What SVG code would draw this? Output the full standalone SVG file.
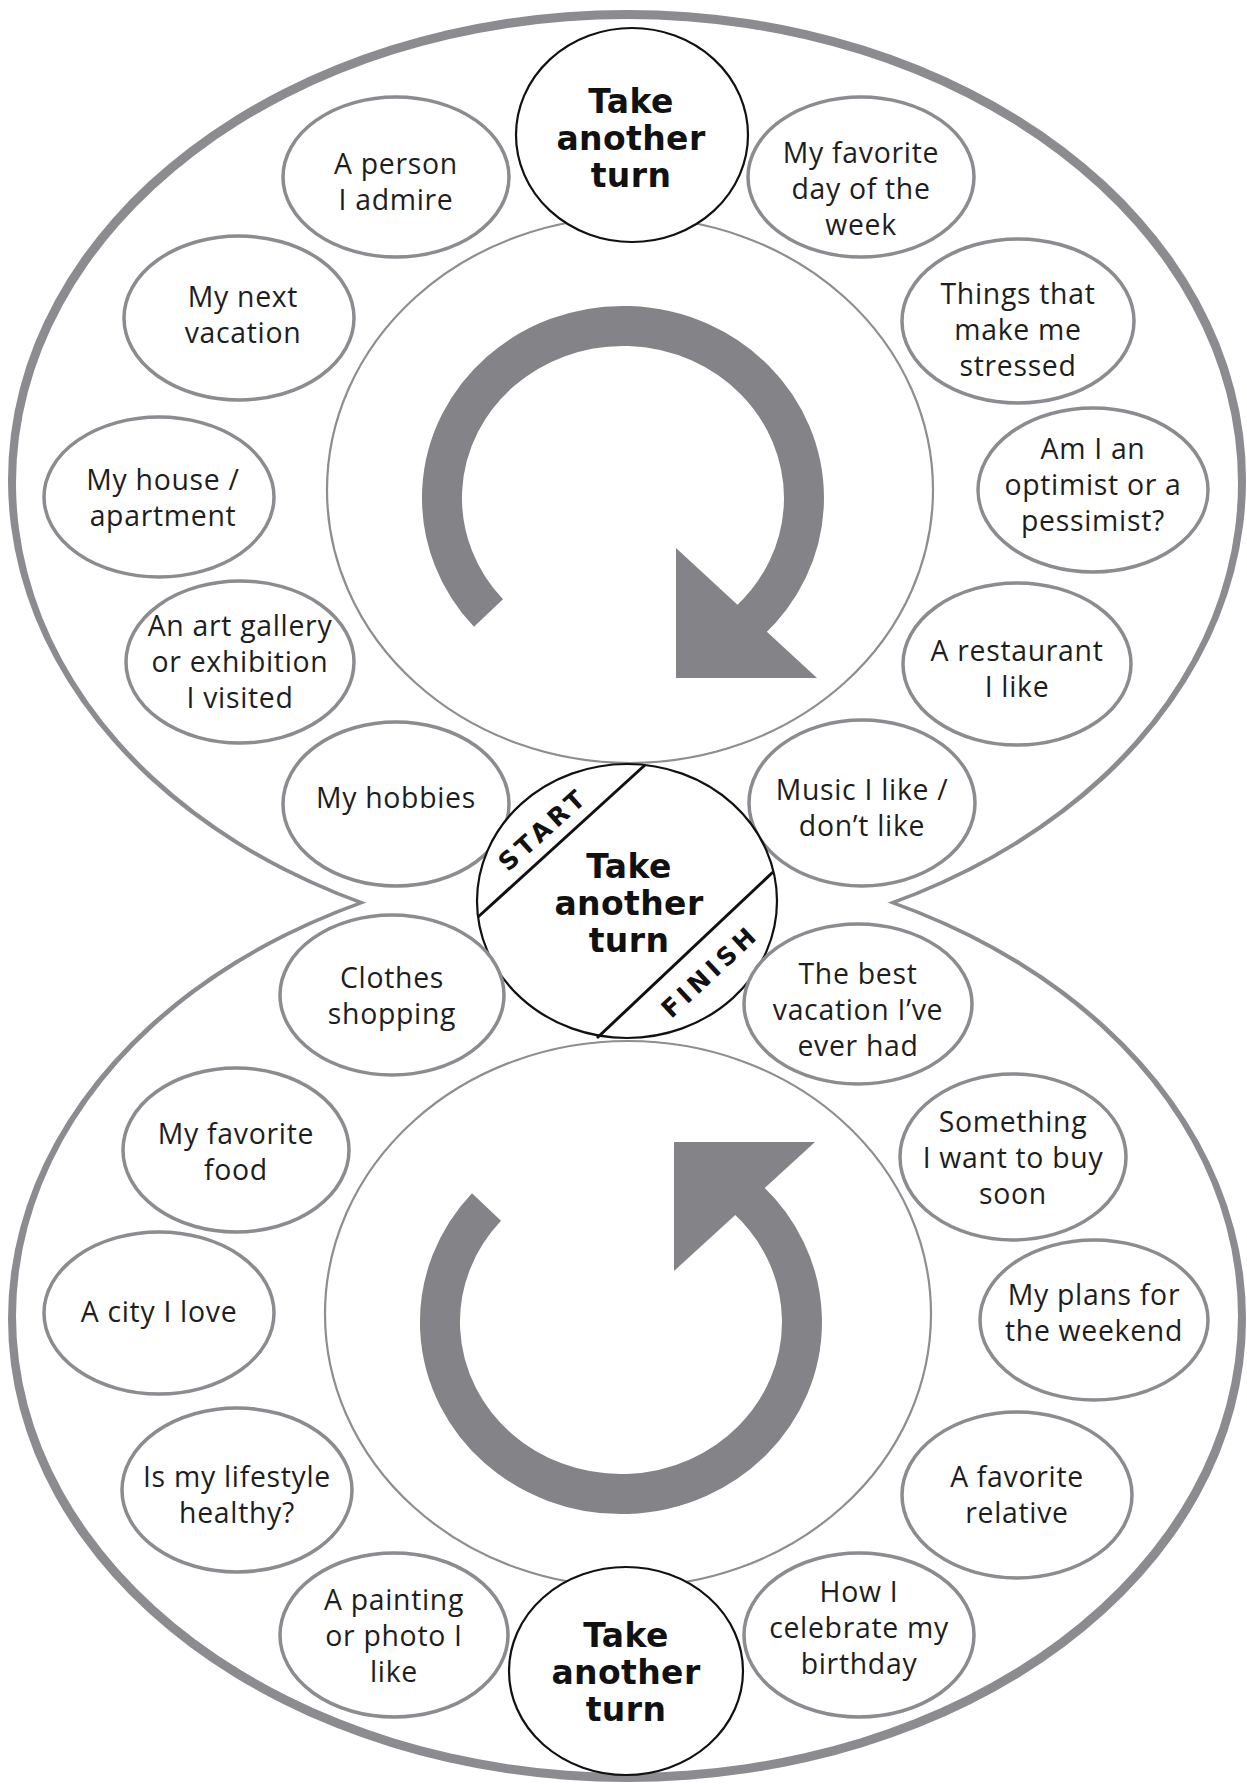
<svg xmlns="http://www.w3.org/2000/svg" width="1247" height="1792" viewBox="0 0 1247 1792">
<defs>
<style>
.band{fill:#8b8b90}
.hole{fill:#ffffff}
.ring{fill:none;stroke:#8e8e92;stroke-width:2.2}
.arc{fill:none;stroke:#838388;stroke-width:40;stroke-linecap:butt}
.head{fill:#838388}
.node{fill:#ffffff;stroke:#8b8b90;stroke-width:3.5}
.turn{fill:#ffffff;stroke:#111111;stroke-width:2.2}
.t{font-family:"Open Sans","Noto Sans","Liberation Sans",sans-serif;font-size:28.4px;letter-spacing:0.7px;fill:#1e1e1e;text-anchor:middle}
.b{font-family:"DejaVu Sans","Liberation Sans",sans-serif;font-size:33px;font-weight:bold;letter-spacing:0.4px;fill:#111111;text-anchor:middle}
.sf{font-family:"DejaVu Sans","Liberation Sans",sans-serif;font-size:25px;font-weight:bold;fill:#111111;text-anchor:middle;letter-spacing:4.5px}
.sep{stroke:#111111;stroke-width:3}
</style>
</defs>
<rect width="1247" height="1792" fill="#ffffff"/>
<g id="frame">
<ellipse class="band" cx="627" cy="480" rx="619" ry="470"/>
<ellipse class="band" cx="627" cy="1319" rx="619" ry="463"/>
<ellipse class="hole" cx="627" cy="483" rx="611" ry="464"/>
<ellipse class="hole" cx="627" cy="1316" rx="611" ry="457"/>
<ellipse class="ring" cx="630" cy="490" rx="303" ry="273"/>
<ellipse class="ring" cx="628" cy="1314" rx="303" ry="273"/>
</g>
<g id="connectors">
<path class="arc" d="M 488.5 613.1 A 181 172 0 1 1 748.7 621.7"/>
<polygon class="head" points="676,548 817,678 676,678"/>
<path class="arc" d="M 486.5 1206.9 A 181 172 0 1 0 746.7 1198.3"/>
<polygon class="head" points="674,1142 815,1142 674,1271"/>
</g>
<g id="n-top-turn"><ellipse class="turn" cx="632" cy="135" rx="116" ry="107"/>
<text class="b" x="631" y="113"><tspan x="631">Take</tspan><tspan x="631" dy="37">another</tspan><tspan x="631" dy="37">turn</tspan></text></g>
<g id="n-person"><ellipse class="node" cx="396" cy="177" rx="113" ry="80"/>
<text class="t" x="396" y="174"><tspan x="396">A person</tspan><tspan x="396" dy="36">I admire</tspan></text></g>
<g id="n-next-vacation"><ellipse class="node" cx="239" cy="318" rx="115" ry="82"/>
<text class="t" x="243" y="307"><tspan x="243">My next</tspan><tspan x="243" dy="36">vacation</tspan></text></g>
<g id="n-house"><ellipse class="node" cx="159" cy="497" rx="115" ry="80"/>
<text class="t" x="163" y="490"><tspan x="163">My house /</tspan><tspan x="163" dy="36">apartment</tspan></text></g>
<g id="n-art"><ellipse class="node" cx="240" cy="662" rx="114" ry="81"/>
<text class="t" x="240" y="636"><tspan x="240">An art gallery</tspan><tspan x="240" dy="36">or exhibition</tspan><tspan x="240" dy="36">I visited</tspan></text></g>
<g id="n-hobbies"><ellipse class="node" cx="396" cy="804" rx="113" ry="82"/>
<text class="t" x="396" y="808">My hobbies</text></g>
<g id="n-day"><ellipse class="node" cx="861" cy="177" rx="113" ry="80"/>
<text class="t" x="861" y="163"><tspan x="861">My favorite</tspan><tspan x="861" dy="36">day of the</tspan><tspan x="861" dy="36">week</tspan></text></g>
<g id="n-stressed"><ellipse class="node" cx="1018" cy="321" rx="116" ry="82"/>
<text class="t" x="1018" y="304"><tspan x="1018">Things that</tspan><tspan x="1018" dy="36">make me</tspan><tspan x="1018" dy="36">stressed</tspan></text></g>
<g id="n-optimist"><ellipse class="node" cx="1093" cy="490" rx="115" ry="82"/>
<text class="t" x="1093" y="459"><tspan x="1093">Am I an</tspan><tspan x="1093" dy="36">optimist or a</tspan><tspan x="1093" dy="36">pessimist?</tspan></text></g>
<g id="n-restaurant"><ellipse class="node" cx="1017" cy="664" rx="114" ry="81"/>
<text class="t" x="1017" y="661"><tspan x="1017">A restaurant</tspan><tspan x="1017" dy="36">I like</tspan></text></g>
<g id="n-music"><ellipse class="node" cx="862" cy="803" rx="113" ry="83"/>
<text class="t" x="862" y="800"><tspan x="862">Music I like /</tspan><tspan x="862" dy="36">don’t like</tspan></text></g>
<g id="n-start"><ellipse class="turn" cx="627" cy="901" rx="150" ry="137"/>
<line class="sep" x1="645" y1="765" x2="478" y2="917"/>
<line class="sep" x1="773" y1="872" x2="597" y2="1038"/>
<text class="b" x="629" y="878"><tspan x="629">Take</tspan><tspan x="629" dy="37">another</tspan><tspan x="629" dy="37">turn</tspan></text>
<g transform="translate(543,829) rotate(-42)"><text class="sf" x="0" y="9">START</text></g>
<g transform="translate(710,971) rotate(-43)"><text class="sf" x="0" y="9">FINISH</text></g></g>
<g id="n-clothes"><ellipse class="node" cx="392" cy="995" rx="112" ry="80"/>
<text class="t" x="392" y="988"><tspan x="392">Clothes</tspan><tspan x="392" dy="36">shopping</tspan></text></g>
<g id="n-food"><ellipse class="node" cx="236" cy="1150" rx="113" ry="82"/>
<text class="t" x="236" y="1144"><tspan x="236">My favorite</tspan><tspan x="236" dy="36">food</tspan></text></g>
<g id="n-city"><ellipse class="node" cx="159" cy="1313" rx="115" ry="81"/>
<text class="t" x="159" y="1322">A city I love</text></g>
<g id="n-lifestyle"><ellipse class="node" cx="237" cy="1490" rx="115" ry="82"/>
<text class="t" x="237" y="1487"><tspan x="237">Is my lifestyle</tspan><tspan x="237" dy="36">healthy?</tspan></text></g>
<g id="n-painting"><ellipse class="node" cx="394" cy="1635" rx="114" ry="82"/>
<text class="t" x="394" y="1610"><tspan x="394">A painting</tspan><tspan x="394" dy="36">or photo I</tspan><tspan x="394" dy="36">like</tspan></text></g>
<g id="n-bottom-turn"><ellipse class="turn" cx="626" cy="1671" rx="117" ry="104"/>
<text class="b" x="626" y="1647"><tspan x="626">Take</tspan><tspan x="626" dy="37">another</tspan><tspan x="626" dy="37">turn</tspan></text></g>
<g id="n-best-vacation"><ellipse class="node" cx="858" cy="1004" rx="114" ry="80"/>
<text class="t" x="858" y="984"><tspan x="858">The best</tspan><tspan x="858" dy="36">vacation I’ve</tspan><tspan x="858" dy="36">ever had</tspan></text></g>
<g id="n-buy"><ellipse class="node" cx="1013" cy="1157" rx="113" ry="83"/>
<text class="t" x="1013" y="1132"><tspan x="1013">Something</tspan><tspan x="1013" dy="36">I want to buy</tspan><tspan x="1013" dy="36">soon</tspan></text></g>
<g id="n-weekend"><ellipse class="node" cx="1094" cy="1320" rx="114" ry="80"/>
<text class="t" x="1094" y="1305"><tspan x="1094">My plans for</tspan><tspan x="1094" dy="36">the weekend</tspan></text></g>
<g id="n-relative"><ellipse class="node" cx="1017" cy="1495" rx="115" ry="83"/>
<text class="t" x="1017" y="1487"><tspan x="1017">A favorite</tspan><tspan x="1017" dy="36">relative</tspan></text></g>
<g id="n-birthday"><ellipse class="node" cx="859" cy="1635" rx="115" ry="82"/>
<text class="t" x="859" y="1602"><tspan x="859">How I</tspan><tspan x="859" dy="36">celebrate my</tspan><tspan x="859" dy="36">birthday</tspan></text></g>
</svg>
